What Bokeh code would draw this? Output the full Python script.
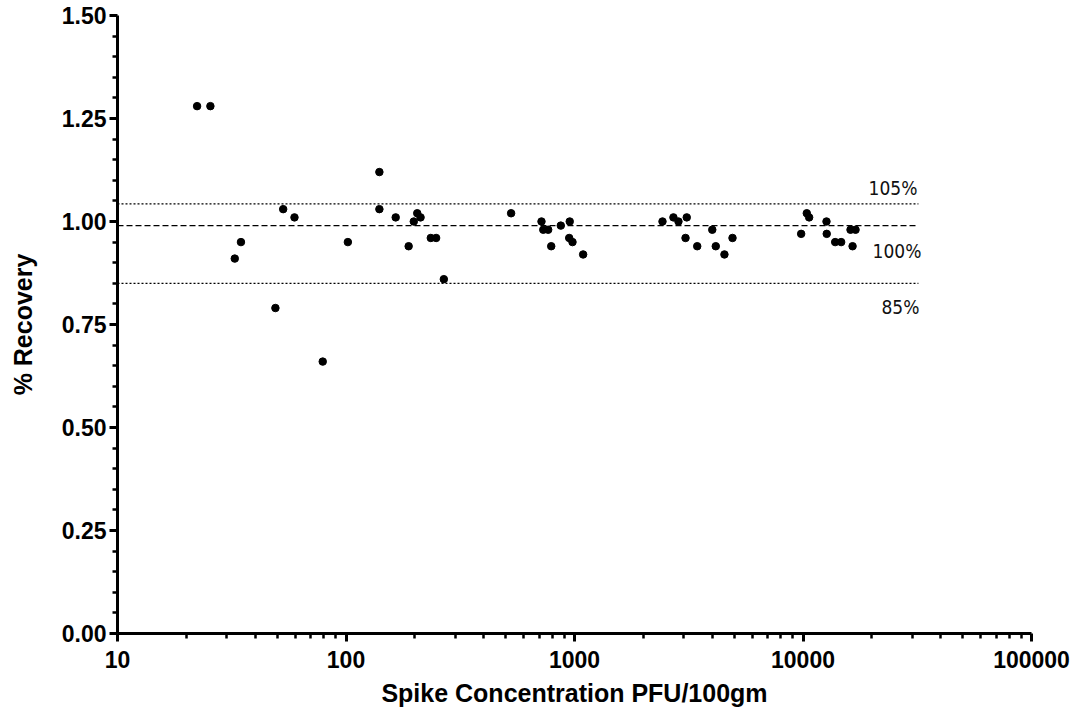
from bokeh.plotting import figure
from bokeh.models import Range1d, FixedTicker, PrintfTickFormatter, NumeralTickFormatter, Label
from bokeh.embed import file_html
from bokeh.resources import INLINE
from bokeh.core.properties import value

# Data: spike concentration (PFU/100gm) vs fractional recovery
conc = [22.3, 25.5, 32.6, 34.7, 49.1, 53.1, 59.5, 79.1, 101.9, 140, 140, 165, 188, 198,
        205, 212, 235, 248, 268, 528, 717, 730, 767, 791, 871, 953, 948, 980, 1091,
        2427, 2710, 2851, 3099, 3061, 3444, 4008, 4152, 4531, 4915,
        9816, 10390, 10640, 12670, 12700, 13830, 14690, 16140, 16980, 16480]
recovery = [1.28, 1.28, 0.91, 0.95, 0.79, 1.03, 1.01, 0.66, 0.95, 1.12, 1.03, 1.01, 0.94, 1.00,
            1.02, 1.01, 0.96, 0.96, 0.86, 1.02, 1.00, 0.98, 0.98, 0.94, 0.99, 1.00, 0.96, 0.95, 0.92,
            1.00, 1.01, 1.00, 1.01, 0.96, 0.94, 0.98, 0.94, 0.92, 0.96,
            0.97, 1.02, 1.01, 1.00, 0.97, 0.95, 0.95, 0.98, 0.98, 0.94]

# Reference lines
ref_levels = [1.043, 0.99, 0.85]
ref_labels = ["105%", "100%", "85%"]
ref_dash = ["2 2", "6 3", "2 2"]
ref_end = 32000

x_major = [10, 100, 1000, 10000, 100000]
y_major = [0.0, 0.25, 0.5, 0.75, 1.0, 1.25, 1.5]

TICK_FONT = "Liberation Sans"
NARROW_FONT = "Liberation Sans Narrow, Arial Narrow, DejaVu Sans Condensed, Roboto Condensed, Liberation Sans"

p = figure(x_axis_type="log", output_backend="svg", toolbar_location=None,
           frame_width=914, frame_height=618,
           min_border_left=117, min_border_right=46, min_border_top=15, min_border_bottom=40,
           x_range=Range1d(10, 100000), y_range=Range1d(0, 1.5))
p.outline_line_color = None
p.xgrid.visible = False
p.ygrid.visible = False
p.background_fill_color = "white"
p.border_fill_color = "white"

# reference lines
for lvl, dash in zip(ref_levels, ref_dash):
    p.line(x=[x_major[0], ref_end], y=[lvl, lvl], line_color="black", line_width=1.3, line_dash=dash)

offsets = [16, -25, -24]
xoffs = [-1, 3, 1]
for lvl, lab, off, xo in zip(ref_levels, ref_labels, offsets, xoffs):
    p.add_layout(Label(x=ref_end, y=lvl, text=lab, x_offset=xo, y_offset=off,
                       text_align="right", text_baseline="middle",
                       text_font=NARROW_FONT, text_font_size="19px", text_color="#111111"))

p.scatter(conc, recovery, size=7.5, color="black", marker="circle")

minor_x = [m * d for d in [10, 100, 1000, 10000] for m in range(2, 10)]
minor_y = [round(i * 0.05, 2) for i in range(0, 31) if i % 5 != 0]

for ax in (p.xaxis[0], p.yaxis[0]):
    ax.axis_line_width = 3
    ax.axis_line_color = "black"
    ax.major_tick_line_width = 3
    ax.minor_tick_line_width = 2.5
    ax.major_tick_in = 0
    ax.minor_tick_in = 0
    ax.major_tick_out = 8
    ax.minor_tick_out = 5
    ax.major_label_text_font = TICK_FONT
    ax.major_label_text_font_style = "bold"
    ax.major_label_text_font_size = "23px"
    ax.major_label_text_color = "black"
    ax.axis_label_text_font = TICK_FONT
    ax.axis_label_text_font_style = "bold"
    ax.axis_label_text_font_size = "25px"
    ax.axis_label_text_color = "black"

p.xaxis[0].ticker = FixedTicker(ticks=x_major, minor_ticks=minor_x)
p.xaxis[0].formatter = PrintfTickFormatter(format="%d")
p.xaxis[0].axis_label = "Spike Concentration PFU/100gm"
p.xaxis[0].major_label_standoff = 9
p.xaxis[0].axis_label_standoff = 8

p.yaxis[0].ticker = FixedTicker(ticks=y_major, minor_ticks=minor_y)
p.yaxis[0].formatter = NumeralTickFormatter(format="0.00")
p.yaxis[0].axis_label = "% Recovery"
p.yaxis[0].major_label_standoff = 3
p.yaxis[0].axis_label_standoff = 22

open("out.html", "w").write(file_html(p, INLINE))
